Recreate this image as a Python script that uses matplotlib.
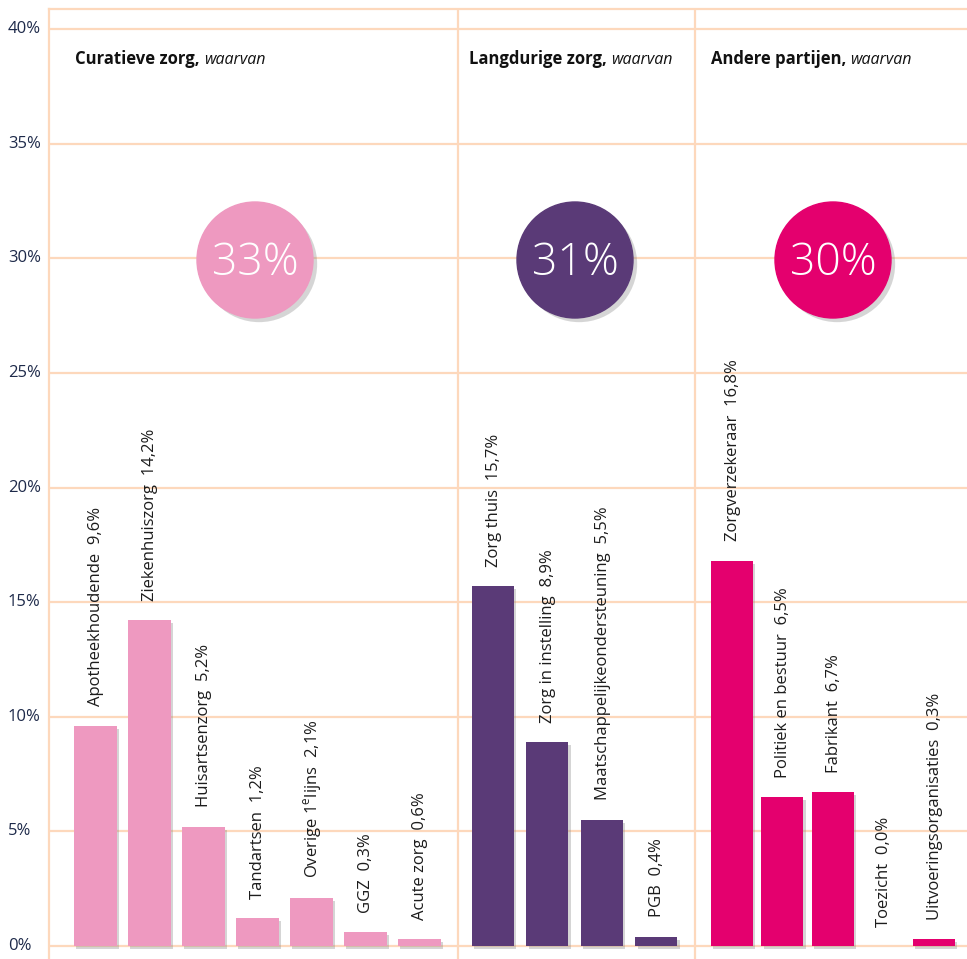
import matplotlib
matplotlib.use("Agg")
import matplotlib.pyplot as plt
from matplotlib.patches import Ellipse
import matplotlib.patheffects as pe
from matplotlib.transforms import blended_transform_factory

## data ##
cur_names = ["Apotheekhoudende", "Ziekenhuiszorg", "Huisartsenzorg", "Tandartsen",
             r"Overige 1$^{\mathregular{e}}$lijns", "GGZ", "Acute zorg"]
cur_labels = ["9,6%", "14,2%", "5,2%", "1,2%", "2,1%", "0,3%", "0,6%"]
cur_values = [9.6, 14.2, 5.2, 1.2, 2.1, 0.6, 0.3]   # bar heights as drawn

lang_names = ["Zorg thuis", "Zorg in instelling", "Maatschappelijkeondersteuning", "PGB"]
lang_labels = ["15,7%", "8,9%", "5,5%", "0,4%"]
lang_values = [15.7, 8.9, 5.5, 0.4]

and_names = ["Zorgverzekeraar", "Politiek en bestuur", "Fabrikant", "Toezicht",
             "Uitvoeringsorganisaties"]
and_labels = ["16,8%", "6,5%", "6,7%", "0,0%", "0,3%"]
and_values = [16.8, 6.5, 6.7, 0.0, 0.3]

group_titles = ["Curatieve zorg", "Langdurige zorg", "Andere partijen"]
group_totals = ["33%", "31%", "30%"]

yticks = [0, 5, 10, 15, 20, 25, 30, 35, 40]
##

FONT = "Open Sans"
plt.rcParams["mathtext.fontset"] = "custom"
plt.rcParams["mathtext.rm"] = FONT
grid_c = "#FDD8BC"
text_c = "#1c1c1c"
colors = ["#EE99C0", "#5A3A77", "#E4006E"]

W, H = 967, 959
fig = plt.figure(figsize=(W / 100, H / 100), dpi=100)
# axes spans from x=49px to right edge, from top line (y=9px) to bottom
ax = fig.add_axes([49 / W, 0, 1 - 49 / W, (H - 9) / H])
pxy = (946 - 29) / 40.0   # pixels per percent
ax.set_xlim(0, W - 49)
ax.set_ylim((946 - H) / pxy, (946 - 9) / pxy)

for s in ["right", "bottom"]:
    ax.spines[s].set_visible(False)
for s in ["left", "top"]:
    ax.spines[s].set_color(grid_c)
    ax.spines[s].set_linewidth(1.6)
ax.set_xticks([])
ax.set_yticks([])
for t in yticks:
    ax.axhline(t, color=grid_c, lw=1.6, zorder=0)

# y tick labels, left aligned
tr = blended_transform_factory(fig.transFigure, ax.transData)
for t in yticks:
    ax.text(8 / W, t, f"{t}%", transform=tr, ha="left", va="center",
            fontsize=12, color="#1E2A4A", family=FONT)

# group separators
for xs in [458, 695]:
    ax.axvline(xs - 49, color=grid_c, lw=1.6, zorder=0)

groups = [
    (cur_names, cur_labels, cur_values, 95, 54.0, 43),
    (lang_names, lang_labels, lang_values, 492.5, 54.5, 42),
    (and_names, and_labels, and_values, 731.5, 50.5, 42),
]
shadow = [pe.SimplePatchShadow(offset=(2, -2), shadow_rgbFace="#888888", alpha=0.35), pe.Normal()]

for gi, (names, labels, vals, x0, step, bw) in enumerate(groups):
    xs = [x0 - 49 + i * step for i in range(len(vals))]
    bars = ax.bar(xs, vals, width=bw, color=colors[gi], zorder=2)
    for b in bars:
        if b.get_height() > 0:
            b.set_path_effects(shadow)
    for x, v, n, l in zip(xs, vals, names, labels):
        ax.annotate(f"{n}  {l}", xy=(x, v), xytext=(1, 14), textcoords="offset points",
                    rotation=90, ha="center", va="bottom", fontsize=12,
                    color=text_c, family=FONT, zorder=3)

# group headers
head_x = [75, 469, 711]
head_y = (946 - 64) / pxy
fig.canvas.draw()
rend = fig.canvas.get_renderer()
for hx, title in zip(head_x, group_titles):
    tb = ax.text(hx - 49, head_y, title + ",", ha="left", va="baseline", fontsize=12,
                 fontweight="bold", color="#111111", family=FONT)
    bb = tb.get_window_extent(rend)
    x_end = ax.transData.inverted().transform((bb.x1, 0))[0]
    ax.text(x_end + 4, head_y, "waarvan", ha="left", va="baseline", fontsize=11.5,
            style="italic", color="#111111", family=FONT)

# total circles
circ_x = [255, 575, 833]
circ_y = (946 - 260) / pxy
r = 58
for cx, tot, c in zip(circ_x, group_totals, colors):
    e = Ellipse((cx - 49, circ_y), width=2 * r, height=2 * r / pxy, color=c, zorder=4)
    e.set_path_effects([pe.SimplePatchShadow(offset=(3, -3), shadow_rgbFace="#777777", alpha=0.3),
                        pe.Normal()])
    ax.add_patch(e)
    ax.text(cx - 49, circ_y - 4 / pxy, tot, ha="center", va="center", fontsize=32,
            fontweight="light", color="white", family=FONT, zorder=5)

fig.savefig("out.png", dpi=100)
